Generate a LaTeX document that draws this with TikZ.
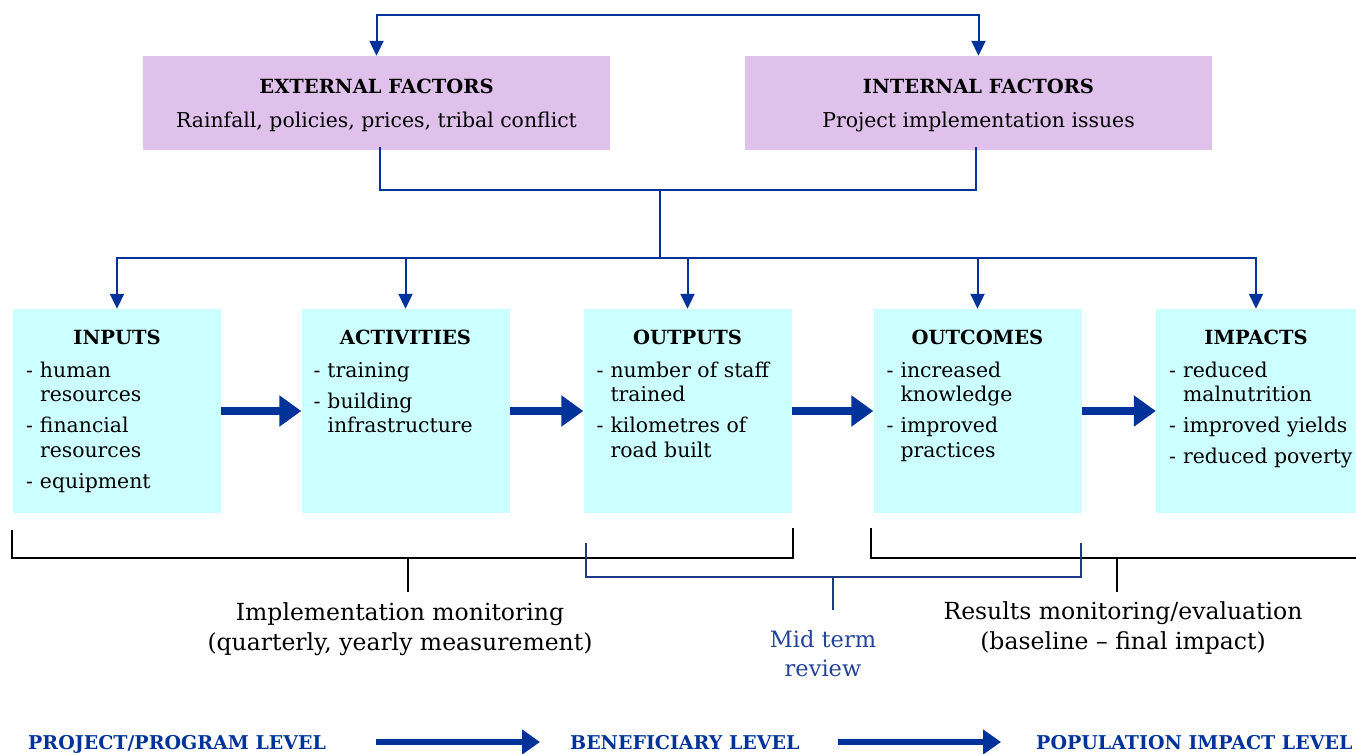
\documentclass[tikz,border=0pt]{standalone}
\usepackage{fontspec}
\setmainfont{DejaVu Serif}
\usetikzlibrary{arrows.meta,calc}
\definecolor{navy}{HTML}{003399}
\definecolor{lilac}{HTML}{E0C1EC}
\definecolor{paleCyan}{HTML}{CCFFFF}
\definecolor{midblue}{HTML}{24439A}
\definecolor{brkblue}{HTML}{1F3A85}
\newcommand{\dashitem}[1]{\makebox[14pt][l]{-}#1}
\newcommand{\contline}[1]{\hspace*{14pt}#1}
\newcommand{\firststrut}{\rule{0pt}{16pt}}
\begin{document}
\begin{tikzpicture}[x=1pt,y=-1pt,
  factor/.style={fill=lilac, draw=none, minimum width=467pt, minimum height=94pt, inner sep=0pt},
  stage/.style={fill=paleCyan, draw=none, minimum width=208pt, minimum height=204pt, inner sep=0pt},
  ttl/.style={font=\fontsize{19.5}{22}\selectfont\bfseries, inner sep=0pt, anchor=base},
  body/.style={font=\fontsize{20.4}{24}\selectfont, inner sep=0pt, anchor=base},
  items/.style={font=\fontsize{20.4}{24.5}\selectfont, align=left, inner sep=0pt, anchor=north west},
  note/.style={font=\fontsize{23.5}{30}\selectfont, align=center, inner sep=0pt, anchor=north},
  lvl/.style={font=\fontsize{19}{22}\selectfont\bfseries, text=navy, inner sep=0pt, anchor=base west},
  conn/.style={draw=navy, line width=2pt},
  tipped/.style={-{Triangle[length=15pt,width=14pt]}},
  fat/.style={draw=navy, line width=8pt, -{Triangle[length=22pt,width=30pt]}},
  lvlarr/.style={draw=navy, line width=6pt, -{Triangle[length=18pt,width=24pt]}},
  brk/.style={draw=black, line width=2pt},
  midbrk/.style={draw=brkblue, line width=2pt}
]
\useasboundingbox (0,0) rectangle (1356,754);

% factor boxes
\node[factor] (ext) at (376.5,103) {};
\node[factor] (int) at (978.5,103) {};
\node[ttl] (extT) at ($(ext.north)+(0,38)$) {EXTERNAL FACTORS};
\node[body] (extB) at ($(ext.north)+(0,72)$) {Rainfall, policies, prices, tribal conflict};
\node[ttl] (intT) at ($(int.north)+(0,38)$) {INTERNAL FACTORS};
\node[body] (intB) at ($(int.north)+(0,72)$) {Project implementation issues};

% stage boxes
\node[stage] (inputs) at (117,411) {};
\node[stage] (activities) at (405.5,411) {};
\node[stage] (outputs) at (687.5,411) {};
\node[stage] (outcomes) at (977.5,411) {};
\node[stage, minimum width=200pt] (impacts) at (1256,411) {};

\node[ttl] (inputsT) at ($(inputs.north)+(0,36)$) {INPUTS};
\node[ttl] (activitiesT) at ($(activities.north)+(0,36)$) {ACTIVITIES};
\node[ttl] (outputsT) at ($(outputs.north)+(0,36)$) {OUTPUTS};
\node[ttl] (outcomesT) at ($(outcomes.north)+(0,36)$) {OUTCOMES};
\node[ttl] (impactsT) at ($(impacts.north)+(0,36)$) {IMPACTS};

\node[items] (inputsI) at ($(inputs.north west)+(13,52)$)
  {\firststrut\dashitem{human}\\ \contline{resources}\\[6.5pt] \dashitem{financial}\\ \contline{resources}\\[6.5pt] \dashitem{equipment}};
\node[items] (activitiesI) at ($(activities.north west)+(12,52)$)
  {\firststrut\dashitem{training}\\[6.5pt] \dashitem{building}\\ \contline{infrastructure}};
\node[items] (outputsI) at ($(outputs.north west)+(13,52)$)
  {\firststrut\dashitem{number of staff}\\ \contline{trained}\\[6.5pt] \dashitem{kilometres of}\\ \contline{road built}};
\node[items] (outcomesI) at ($(outcomes.north west)+(13,52)$)
  {\firststrut\dashitem{increased}\\ \contline{knowledge}\\[6.5pt] \dashitem{improved}\\ \contline{practices}};
\node[items] (impactsI) at ($(impacts.north west)+(13,52)$)
  {\firststrut\dashitem{reduced}\\ \contline{malnutrition}\\[6.5pt] \dashitem{improved yields}\\[6.5pt] \dashitem{reduced poverty}};

% top connector
\coordinate (topmid) at (676,15);
\draw[conn, {Triangle[length=15pt,width=14pt]}-{Triangle[length=15pt,width=14pt]}]
  (ext.north) |- (topmid) -| (int.north);

% joining connector
\coordinate (join) at (660,190);
\coordinate (hub) at (660,258);
\draw[conn] ($(ext.south)+(3,-3)$) |- (join) -| ($(int.south)+(-3,-3)$);
\draw[conn] (join) -- (hub);
\foreach \b in {inputs,activities,outputs,outcomes,impacts}
  \draw[conn, tipped] (hub) -| (\b.north);

% fat arrows
\draw[fat] (inputs.east) -- (activities.west);
\draw[fat] (activities.east) -- (outputs.west);
\draw[fat] (outputs.east) -- (outcomes.west);
\draw[fat] (outcomes.east) -- (impacts.west);

% brackets
\draw[brk] ($(inputs.south west)+(-1,17)$) -- ++(0,28) -| ($(outputs.south east)+(1,15)$);
\draw[brk] ($(activities.south)+(2,45)$) -- ++(0,34);
\draw[brk] ($(outcomes.south west)+(-2,15)$) -- ++(0,30) -- ($(impacts.south east)+(0,45)$);
\draw[brk] ($(impacts.south west)+(-39,45)$) -- ++(0,34);
\draw[midbrk] ($(outputs.south west)+(3,30)$) -- ++(0,34) -| ($(outcomes.south east)+(-1,30)$);
\draw[midbrk] ($(outputs.south east)+(41,64)$) -- ++(0,33);

% notes
\node[note] (implNote) at (400,602) {\rule{0pt}{18pt}Implementation monitoring\\(quarterly, yearly measurement)};
\node[note, font=\fontsize{22.5}{29}\selectfont, text=midblue] (midNote) at (823,629) {\rule{0pt}{18pt}Mid term\\review};
\node[note] (resNote) at (1123,601) {\rule{0pt}{18pt}Results monitoring/evaluation\\(baseline -- final impact)};

% levels
\node[lvl] (lvlA) at (28,749) {PROJECT/PROGRAM LEVEL};
\node[lvl] (lvlB) at (570,749) {BENEFICIARY LEVEL};
\node[lvl] (lvlC) at (1036,749) {POPULATION IMPACT LEVEL};
\coordinate (a1s) at (376,742);
\coordinate (a1e) at (540,742);
\coordinate (a2s) at (838,742);
\coordinate (a2e) at (1001,742);
\draw[lvlarr] (a1s) -- (a1e);
\draw[lvlarr] (a2s) -- (a2e);
\end{tikzpicture}
\end{document}
